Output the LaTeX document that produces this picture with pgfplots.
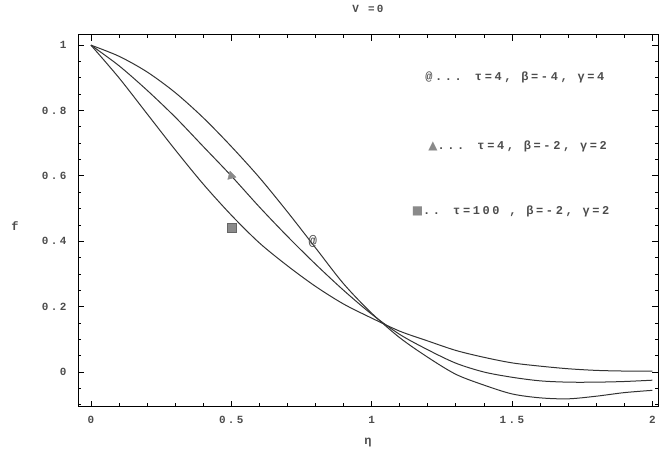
\documentclass[border=0pt]{standalone}
\usepackage{pgfplots}
\pgfplotsset{compat=1.18}
\usepackage{fontspec}
\setmainfont{Liberation Mono}[LetterSpace=22]
\newfontfamily\symfont{DejaVu Sans}
\definecolor{curve}{HTML}{333333}
\definecolor{mk}{HTML}{8A8A8A}
\begin{document}
\begin{tikzpicture}
\path[use as bounding box] (0,0) rectangle (663bp,461bp);
\begin{axis}[
  at={(78bp,54bp)}, anchor=south west,
  scale only axis, width=580bp, height=372bp,
  xmin=-0.046, xmax=2.02, ymin=-0.107, ymax=1.031,
  xtick={0,0.5,1,1.5,2},
  minor xtick={0,0.1,...,2.01},
  ytick={0,0.2,0.4,0.6,0.8,1},
  minor ytick={-0.1,-0.05,...,1.01},
  tick align=inside,
  major tick length=6bp, minor tick length=3.5bp,
  every tick/.style={black, line width=0.8bp},
  axis line style={black, line width=1bp},
  /pgf/number format/assume math mode=true,
  ticklabel style={font=\fontsize{11}{13}\selectfont\bfseries, text=black!70},
  yticklabel style={xshift=-8bp},
  xticklabel style={yshift=-6bp},
  xlabel={\fontsize{12}{14}\selectfont\bfseries η},
  ylabel={\fontsize{12}{14}\selectfont\bfseries f},
  xlabel style={at={(axis description cs:0.5,0)}, anchor=center, yshift=-36bp, text=black!70},
  ylabel style={at={(axis description cs:0,0.485)}, anchor=center, rotate=-90, xshift=-63bp, text=black!70},
  title={\fontsize{11}{12}\selectfont\bfseries V =0},
  title style={at={(axis description cs:0.5,1)}, anchor=center, yshift=20bp, text=black!70},
  clip=false,
]
\addplot[curve, line width=1bp, smooth] coordinates {
(0,1.0) (0.1,0.966) (0.2,0.918) (0.3,0.855) (0.4,0.778) (0.5,0.69) (0.6,0.595)
(0.7,0.49) (0.8,0.38) (0.9,0.27) (1.0,0.18) (1.1,0.105) (1.2,0.045) (1.3,-0.007)
(1.4,-0.04) (1.5,-0.067) (1.6,-0.079) (1.7,-0.082) (1.8,-0.074) (1.9,-0.063) (2.0,-0.056)};
\addplot[curve, line width=1bp, smooth] coordinates {
(0,1.0) (0.1,0.937) (0.2,0.862) (0.3,0.78) (0.4,0.69) (0.5,0.60) (0.6,0.505)
(0.7,0.415) (0.8,0.33) (0.9,0.25) (1.0,0.177) (1.1,0.115) (1.2,0.068) (1.3,0.027)
(1.4,0.0) (1.5,-0.016) (1.6,-0.027) (1.7,-0.031) (1.8,-0.031) (1.9,-0.029) (2.0,-0.025)};
\addplot[curve, line width=1bp, smooth] coordinates {
(0,1.0) (0.1,0.9) (0.2,0.79) (0.3,0.68) (0.4,0.575) (0.5,0.48) (0.6,0.395)
(0.7,0.325) (0.8,0.262) (0.9,0.208) (1.0,0.165) (1.1,0.125) (1.2,0.095) (1.3,0.066)
(1.4,0.045) (1.5,0.028) (1.6,0.018) (1.7,0.01) (1.8,0.005) (1.9,0.003) (2.0,0.003)};
% markers
\addplot[only marks, mark=text, text mark={\fontsize{14}{14}\selectfont\bfseries\textcolor{black!70}{@}}] coordinates {(0.79,0.40)};
\addplot[only marks, mark=triangle*, mark size=5bp, mark options={fill=mk, draw=mk, rotate=15}] coordinates {(0.5,0.60)};
\addplot[only marks, mark=square*, mark size=4.5bp, mark options={fill=mk, draw=black!60}] coordinates {(0.5,0.443)};
% legend text
\node[font=\fontsize{12}{14}\selectfont\bfseries, text=black!70] at (axis cs:1.51,0.90) {@... τ=4, β=-4, γ=4};
\node[font=\fontsize{12}{14}\selectfont\bfseries, text=black!70] at (axis cs:1.52,0.69) {{\symfont\textcolor{mk}{▲}}... τ=4, β=-2, γ=2};
\node[font=\fontsize{12}{14}\selectfont\bfseries, text=black!70] at (axis cs:1.495,0.49) {{\symfont\textcolor{mk}{■}}.. τ=100 , β=-2, γ=2};
\end{axis}
\end{tikzpicture}
\end{document}
